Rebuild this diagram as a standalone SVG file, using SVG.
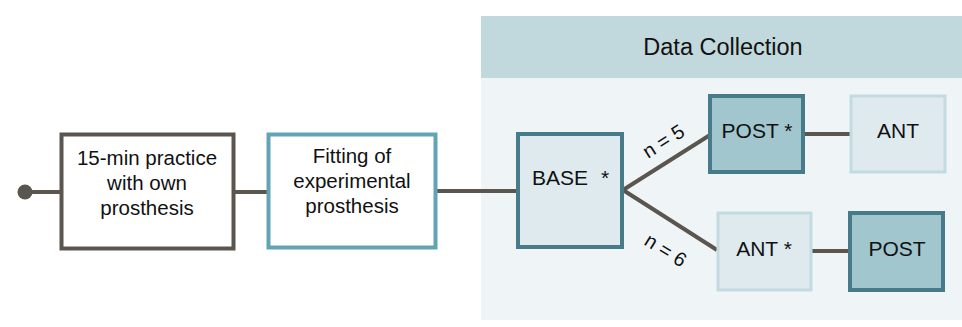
<svg xmlns="http://www.w3.org/2000/svg" width="962" height="327" viewBox="0 0 962 327">
<style>
text{font-family:"Liberation Sans",Arial,sans-serif;fill:#111;text-anchor:middle}
.t{font-size:20.5px}
.n{font-size:21px}
.lbl{font-size:20px}
.conn line{stroke:#5a554e;stroke-width:4}
.light{fill:#deeaee;stroke:#c3dbe0;stroke-width:3}
.dark{stroke:#477b89;stroke-width:4}
</style>
<rect x="481" y="16" width="481" height="304" fill="#eff5f7"/>
<rect x="481" y="16" width="481" height="62" fill="#c1d9dd"/>
<text x="723" y="55" style="font-size:23.5px">Data Collection</text>
<g class="conn">
<line x1="25" y1="192" x2="60" y2="192"/>
<line x1="235" y1="192" x2="267" y2="192"/>
<line x1="437" y1="191" x2="517" y2="191"/>
<line x1="623" y1="190" x2="710" y2="135"/>
<line x1="623" y1="190" x2="717" y2="250"/>
<line x1="804" y1="134" x2="850" y2="134"/>
<line x1="812" y1="251" x2="849" y2="251"/>
<circle cx="25" cy="192" r="7.5" fill="#5a554e"/>
<text class="lbl" transform="translate(667,147) rotate(-32)">n = 5</text>
<text class="lbl" transform="translate(662,256) rotate(32)">n = 6</text>
</g>
<g id="practice">
<rect x="61.5" y="134.5" width="172" height="114" fill="#fff" stroke="#5a554e" stroke-width="4"/>
<text class="t" x="147" y="165">15-min practice</text>
<text class="t" x="147" y="190">with own</text>
<text class="t" x="147" y="215">prosthesis</text>
</g>
<g id="fitting">
<rect x="268.5" y="134.5" width="167" height="113" fill="#fff" stroke="#62a4b4" stroke-width="4"/>
<text class="t" x="352" y="163">Fitting of</text>
<text class="t" x="352" y="188">experimental</text>
<text class="t" x="352" y="213">prosthesis</text>
</g>
<g id="base">
<rect x="518" y="134" width="104" height="113" fill="#deeaee" class="dark"/>
<text class="n" x="560" y="185">BASE</text>
<text class="n" x="605" y="185">*</text>
</g>
<g id="post1">
<rect x="710" y="96" width="93" height="76" fill="#a1c6ce" class="dark"/>
<text class="n" x="757" y="138">POST *</text>
</g>
<g id="ant1">
<rect x="851" y="96" width="94" height="76" class="light"/>
<text class="n" x="898" y="138">ANT</text>
</g>
<g id="ant2">
<rect x="718" y="213" width="93" height="77" class="light"/>
<text class="n" x="764" y="256">ANT *</text>
</g>
<g id="post2">
<rect x="850" y="213" width="93" height="77" fill="#a1c6ce" class="dark"/>
<text class="n" x="897" y="256">POST</text>
</g>
</svg>
